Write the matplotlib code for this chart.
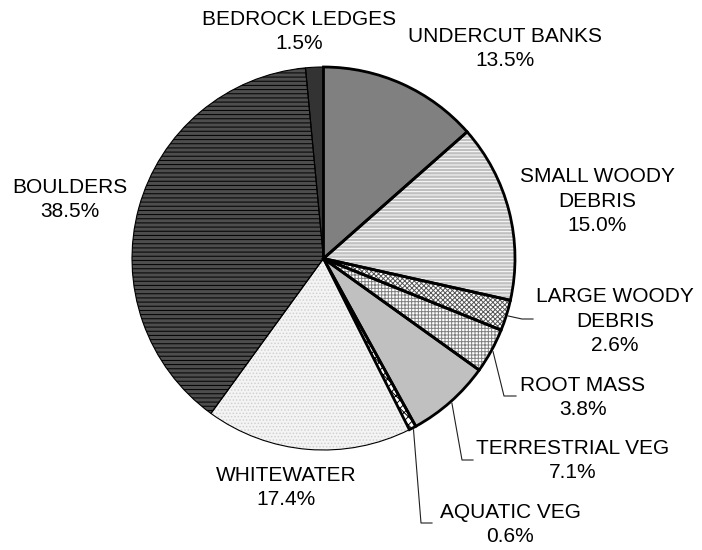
import numpy as np
import matplotlib
matplotlib.use("Agg")
import matplotlib.pyplot as plt
from matplotlib.patches import Wedge

plt.rcParams['font.family'] = ['Liberation Sans', 'DejaVu Sans']
plt.rcParams['hatch.linewidth'] = 0.7

# Data
names = ['UNDERCUT BANKS', 'SMALL WOODY\nDEBRIS', 'LARGE WOODY\nDEBRIS', 'ROOT MASS',
         'TERRESTRIAL VEG', 'AQUATIC VEG', 'WHITEWATER', 'BOULDERS', 'BEDROCK LEDGES']
shares = [13.5, 15.0, 2.6, 3.8, 7.1, 0.6, 17.4, 38.5, 1.5]

# Styling per slice: face, hatch, hatch colour, thick outline
faces = ['#808080', '#c0c0c0', '#ffffff', '#ffffff', '#c0c0c0', '#ffffff', '#f4f4f4', '#4d4d4d', '#333333']
hatches = [None, '-----', 'xxxxxxx', '+++++', None, 'xxxx', '.....', '----', None]
hatch_cols = [None, '#ffffff', '#555555', '#808080', None, '#000000', '#d0d0d0', '#000000', None]
thick = [True, True, True, True, True, True, False, False, False]

# label layout in pixels (centre x, first baseline y from top)
label_pos = [(505, 41), (597, 181), (615, 301), (583, 390), (573, 453),
             (510, 517), (286, 480), (70, 192), (299, 24)]
line_step = 25
# leader lines: elbow and end points in pixels
leaders = {2: [(522, 319), (533, 319)],
           3: [(504, 396), (516, 396)],
           4: [(462, 460), (473, 460)],
           5: [(421, 523), (432, 523)]}

W, H = 702, 550
fig = plt.figure(figsize=(W / 100, H / 100), dpi=100)
ax = fig.add_axes([0, 0, 1, 1])

cx, cy, r = 323.5, H - 258.5, 191.5
wedges, _ = ax.pie(shares, colors=faces, startangle=90, counterclock=False,
                   radius=r, center=(cx, cy),
                   wedgeprops=dict(linewidth=0))

for w, h, hc in zip(wedges, hatches, hatch_cols):
    if h:
        ax.add_patch(Wedge(w.center, w.r, w.theta1, w.theta2, fill=False,
                           hatch=h, edgecolor=hc, linewidth=0))
# thin outlines, then thick ones on top
for w, t in zip(wedges, thick):
    if not t:
        ax.add_patch(Wedge(w.center, w.r, w.theta1, w.theta2, fill=False,
                           edgecolor='black', linewidth=0.8))
for w, t in zip(wedges, thick):
    if t:
        ax.add_patch(Wedge(w.center, w.r, w.theta1, w.theta2, fill=False,
                           edgecolor='black', linewidth=2.0, joinstyle='miter'))

for i, (name, v) in enumerate(zip(names, shares)):
    x, y = label_pos[i]
    txt = f'{name}\n{v:.1f}%'
    n = txt.count('\n')
    # baseline alignment refers to the last line
    ax.text(x, H - (y + line_step * n), txt, ha='center', va='baseline',
            fontsize=15, color='black', linespacing=1.36, multialignment='center')

for i, pts in leaders.items():
    w = wedges[i]
    mid = np.deg2rad((w.theta1 + w.theta2) / 2)
    sx = cx + (r + 2) * np.cos(mid)
    sy = cy + (r + 2) * np.sin(mid)
    xs = [sx] + [p[0] for p in pts]
    ys = [sy] + [H - p[1] for p in pts]
    ax.plot(xs, ys, color='#202020', linewidth=0.8)

ax.set_xlim(0, W)
ax.set_ylim(0, H)
ax.axis('off')

fig.savefig('out.png', dpi=100)
